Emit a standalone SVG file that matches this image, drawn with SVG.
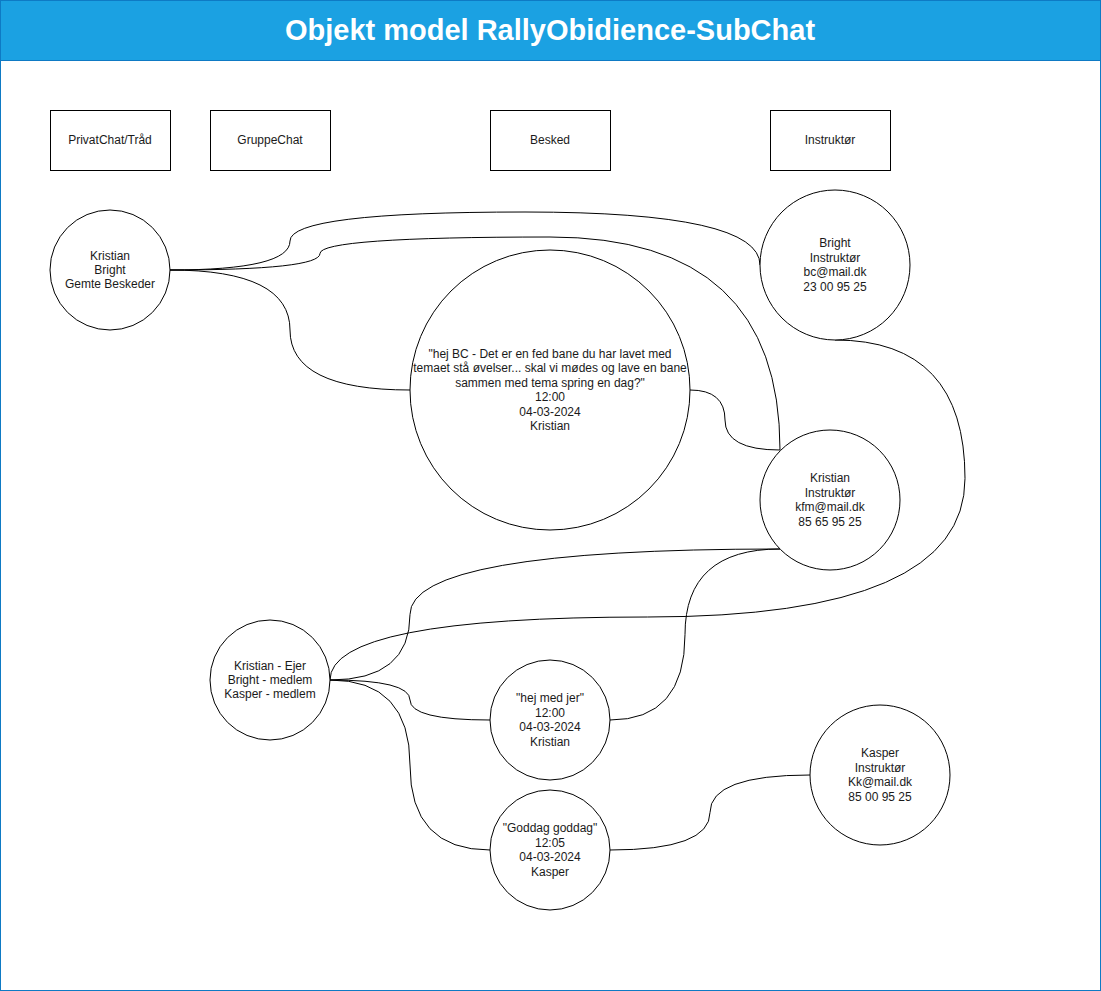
<svg xmlns="http://www.w3.org/2000/svg" width="1101" height="991" viewBox="0 0 1101 991">
<style>
.t{font-family:"Liberation Sans",Arial,sans-serif;font-size:12px;fill:#1a1a1a;text-anchor:middle}
.title{font-family:"Liberation Sans",Arial,sans-serif;font-size:29px;font-weight:bold;fill:#ffffff;text-anchor:middle}
.n{fill:#ffffff;stroke:#000000;stroke-width:1}
.c{fill:none;stroke:#000000;stroke-width:1}
</style>
<g id="frame">
<rect x="0.5" y="0.5" width="1100" height="990" fill="#ffffff" stroke="#0e7ac4" stroke-width="1"/>
<rect x="0.5" y="0.5" width="1100" height="60" fill="#1ba1e2" stroke="#0e7ac4" stroke-width="1"/>
<text class="title" x="550" y="40">Objekt model RallyObidience-SubChat</text>
</g>
<g id="connectors">
<path class="c" d="M170 270 Q290 270 290 241 Q290 212 525 212 Q760 212 760 265"/>
<path class="c" d="M170 270 Q320 270 320 253.5 Q320 237 550 237 Q780 237 780 450"/>
<path class="c" d="M170 270 Q290 270 290 330 Q290 390 410 390"/>
<path class="c" d="M690 390 Q725 390 725 420 Q725 450 780 450"/>
<path class="c" d="M835 340 Q965 340 965 478.5 Q965 617 647.5 617 Q330 617 330 680"/>
<path class="c" d="M780 549 Q410 549 410 614.5 Q410 680 330 680"/>
<path class="c" d="M330 680 Q410 680 410 700 Q410 720 490 720"/>
<path class="c" d="M330 680 Q410 680 410 765 Q410 850 490 850"/>
<path class="c" d="M610 720 Q685 720 685 634.5 Q685 549 780 549"/>
<path class="c" d="M610 850 Q710 850 710 812.5 Q710 775 810 775"/>
</g>
<g id="box-privatchat">
<rect class="n" x="50.5" y="110.5" width="120" height="60"/>
<text class="t" x="110" y="144">PrivatChat/Tråd</text>
</g>
<g id="box-gruppechat">
<rect class="n" x="210.5" y="110.5" width="120" height="60"/>
<text class="t" x="270" y="144">GruppeChat</text>
</g>
<g id="box-besked">
<rect class="n" x="490.5" y="110.5" width="120" height="60"/>
<text class="t" x="550" y="144">Besked</text>
</g>
<g id="box-instruktor">
<rect class="n" x="770.5" y="110.5" width="120" height="60"/>
<text class="t" x="830" y="144">Instruktør</text>
</g>
<g id="privatchat-1">
<circle class="n" cx="110" cy="270" r="60"/>
<text class="t" x="110" y="259.6">Kristian</text>
<text class="t" x="110" y="274">Bright</text>
<text class="t" x="110" y="288.4">Gemte Beskeder</text>
</g>
<g id="besked-1">
<circle class="n" cx="550" cy="390" r="140"/>
<text class="t" x="550" y="358">"hej BC - Det er en fed bane du har lavet med</text>
<text class="t" x="550" y="372.4">temaet stå øvelser... skal vi mødes og lave en bane</text>
<text class="t" x="550" y="386.8">sammen med tema spring en dag?"</text>
<text class="t" x="550" y="401.2">12:00</text>
<text class="t" x="550" y="415.6">04-03-2024</text>
<text class="t" x="550" y="430">Kristian</text>
</g>
<g id="instruktor-bright">
<circle class="n" cx="835" cy="265" r="75"/>
<text class="t" x="835" y="247.4">Bright</text>
<text class="t" x="835" y="261.8">Instruktør</text>
<text class="t" x="835" y="276.2">bc@mail.dk</text>
<text class="t" x="835" y="290.6">23 00 95 25</text>
</g>
<g id="instruktor-kristian">
<circle class="n" cx="830" cy="500" r="70"/>
<text class="t" x="830" y="482.4">Kristian</text>
<text class="t" x="830" y="496.8">Instruktør</text>
<text class="t" x="830" y="511.2">kfm@mail.dk</text>
<text class="t" x="830" y="525.6">85 65 95 25</text>
</g>
<g id="gruppechat-1">
<circle class="n" cx="270" cy="680" r="60"/>
<text class="t" x="270" y="669.6">Kristian - Ejer</text>
<text class="t" x="270" y="684">Bright - medlem</text>
<text class="t" x="270" y="698.4">Kasper - medlem</text>
</g>
<g id="besked-2">
<circle class="n" cx="550" cy="720" r="60"/>
<text class="t" x="550" y="702.4">"hej med jer"</text>
<text class="t" x="550" y="716.8">12:00</text>
<text class="t" x="550" y="731.2">04-03-2024</text>
<text class="t" x="550" y="745.6">Kristian</text>
</g>
<g id="besked-3">
<circle class="n" cx="550" cy="850" r="60"/>
<text class="t" x="550" y="832.4">"Goddag goddag"</text>
<text class="t" x="550" y="846.8">12:05</text>
<text class="t" x="550" y="861.2">04-03-2024</text>
<text class="t" x="550" y="875.6">Kasper</text>
</g>
<g id="instruktor-kasper">
<circle class="n" cx="880" cy="775" r="70"/>
<text class="t" x="880" y="757.4">Kasper</text>
<text class="t" x="880" y="771.8">Instruktør</text>
<text class="t" x="880" y="786.2">Kk@mail.dk</text>
<text class="t" x="880" y="800.6">85 00 95 25</text>
</g>
</svg>
